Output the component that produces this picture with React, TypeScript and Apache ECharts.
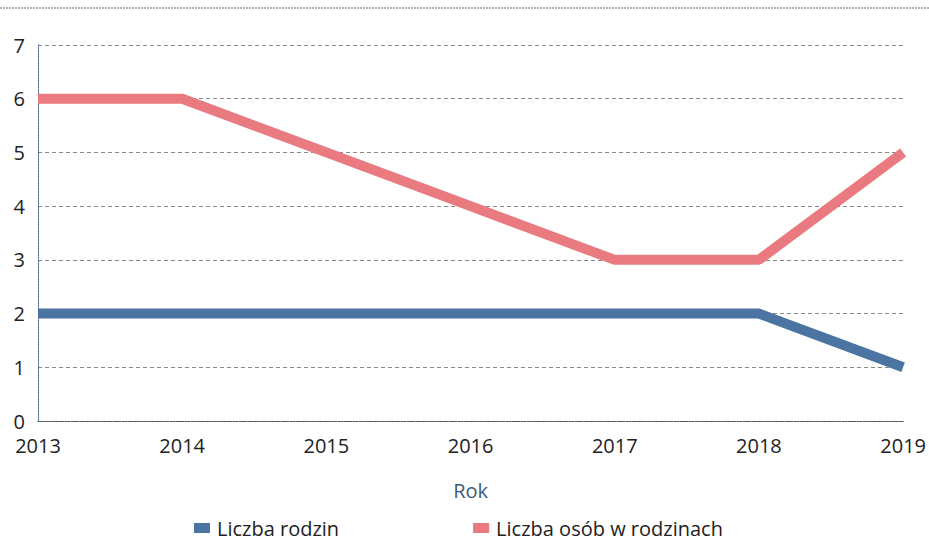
import React, { useEffect, useRef } from "react";
import * as echarts from "echarts";

const years = ["2013", "2014", "2015", "2016", "2017", "2018", "2019"];
const families = [2, 2, 2, 2, 2, 2, 1];
const persons = [6, 6, 5, 4, 3, 3, 5];
const seriesNames = ["Liczba rodzin", "Liczba osób w rodzinach"];
const xAxisTitle = "Rok";

const FONT = "'Open Sans', 'Noto Sans', sans-serif";

export default function App() {
  const ref = useRef<HTMLDivElement>(null);
  useEffect(() => {
    document.body.style.margin = "0";
    const chart = echarts.init(ref.current!, null, { renderer: "svg" });
    chart.setOption({
      animation: false,
      backgroundColor: "#ffffff",
      textStyle: { fontFamily: FONT },
      grid: { left: 38, right: 25, top: 45, bottom: 123 },
      graphic: [
        {
          type: "line",
          shape: { x1: 0, y1: 8, x2: 929, y2: 8 },
          style: { stroke: "#666", lineWidth: 1, lineDash: [2, 1] },
        },
      ],
      legend: {
        left: 192,
        top: 514,
        padding: 2,
        itemWidth: 16,
        itemHeight: 10,
        itemGap: 134,
        icon: "rect",
        textStyle: { fontSize: 20, lineHeight: 24, color: "#222", fontFamily: FONT, padding: [0, 0, 0, 2] },
        data: seriesNames,
      },
      xAxis: {
        type: "category",
        data: years,
        boundaryGap: false,
        name: xAxisTitle,
        nameLocation: "middle",
        nameGap: 59,
        nameTextStyle: { fontSize: 20, color: "#3c5a7c", fontFamily: FONT },
        axisLine: { lineStyle: { color: "#555", type: [2, 1], width: 1 } },
        axisTick: { show: false },
        axisLabel: { fontSize: 20, color: "#222", margin: 14, fontFamily: FONT },
        splitLine: { show: false },
      },
      yAxis: {
        type: "value",
        min: 0,
        max: 7,
        interval: 1,
        axisLine: { show: true, lineStyle: { color: "#4a6f9a", type: [2, 1], width: 1 } },
        axisTick: { show: false },
        axisLabel: { fontSize: 20, color: "#222", margin: 13, fontFamily: FONT },
        splitLine: { lineStyle: { color: "#888", type: [4, 3], width: 1 } },
      },
      series: [
        {
          name: seriesNames[0],
          type: "line",
          data: families,
          symbol: "none",
          lineStyle: { width: 10, color: "#4b74a3" },
          itemStyle: { color: "#4b74a3" },
        },
        {
          name: seriesNames[1],
          type: "line",
          data: persons,
          symbol: "none",
          lineStyle: { width: 10, color: "#e97a80" },
          itemStyle: { color: "#e97a80" },
        },
      ],
    });
    return () => chart.dispose();
  }, []);
  return <div ref={ref} style={{ width: 929, height: 544 }} />;
}
